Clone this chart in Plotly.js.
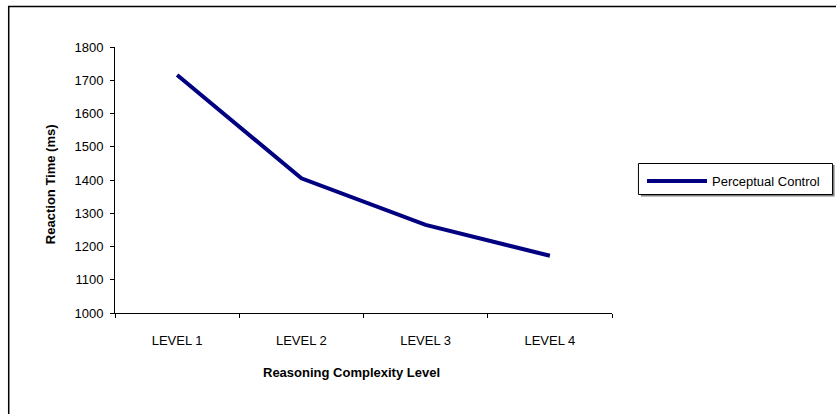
<!DOCTYPE html>
<html>
<head>
<meta charset="utf-8">
<script src="https://cdn.plot.ly/plotly-3.0.1.min.js"></script>
<style>
  html, body { margin: 0; padding: 0; background: #fff; }
  #chart { width: 836px; height: 414px; }
</style>
</head>
<body>
<div id="chart"></div>
<script>
// Reasoning complexity levels and mean reaction times
const levels = ["LEVEL 1", "LEVEL 2", "LEVEL 3", "LEVEL 4"];
const perceptualControl = [1716, 1405, 1265, 1172];
const yTicks = [1000, 1100, 1200, 1300, 1400, 1500, 1600, 1700, 1800];

const font = "Liberation Sans, Arial, sans-serif";
const fs = 13;

// plot area in pixels
const L = 115, R = 613, T = 47, B = 313, W = 836, H = 414;
const px = x => (x - L) / (R - L);
const py = y => (B - y) / (B - T);

const trace = {
  x: levels,
  y: perceptualControl,
  type: "scatter",
  mode: "lines",
  name: "Perceptual Control",
  line: { color: "#000080", width: 4 },
  hoverinfo: "x+y"
};

const layout = {
  width: W,
  height: H,
  margin: { l: L, r: W - R, t: T, b: H - B, pad: 0 },
  paper_bgcolor: "#ffffff",
  plot_bgcolor: "#ffffff",
  font: { family: font, size: fs, color: "#000" },
  showlegend: true,
  xaxis: {
    type: "category",
    range: [-0.5, 3.5],
    showgrid: false,
    zeroline: false,
    showline: true,
    linecolor: "#000",
    linewidth: 1,
    ticks: "outside",
    tickson: "boundaries",
    ticklen: 4,
    tickcolor: "#000",
    ticklabelstandoff: 15,
    tickfont: { family: font, size: fs, color: "#000" },
    fixedrange: true
  },
  yaxis: {
    range: [1000, 1800],
    tickvals: yTicks,
    showgrid: false,
    zeroline: false,
    showline: true,
    linecolor: "#000",
    linewidth: 1,
    ticks: "outside",
    ticklen: 4,
    tickcolor: "#000",
    ticklabelstandoff: 4,
    tickfont: { family: font, size: fs, color: "#000" },
    fixedrange: true
  },
  legend: {
    x: px(642),
    y: py(166),
    xanchor: "left",
    yanchor: "top",
    bgcolor: "rgba(0,0,0,0)",
    borderwidth: 0,
    itemwidth: 60,
    font: { family: font, size: fs, color: "#000" }
  },
  annotations: [
    {
      text: "<b>Reasoning Complexity Level</b>",
      xref: "paper", yref: "paper",
      x: px(352), y: py(373),
      xanchor: "center", yanchor: "middle",
      showarrow: false,
      font: { family: font, size: fs, color: "#000" }
    },
    {
      text: "<b>Reaction Time (ms)</b>",
      xref: "paper", yref: "paper",
      x: px(50), y: py(184),
      xanchor: "center", yanchor: "middle",
      textangle: -90,
      showarrow: false,
      font: { family: font, size: fs, color: "#000" }
    }
  ],
  shapes: [
    {
      // chart frame
      type: "rect", xref: "paper", yref: "paper",
      x0: px(8.5), x1: px(900), y0: py(6.5), y1: py(480),
      line: { color: "#000", width: 1.5 },
      fillcolor: "rgba(0,0,0,0)",
      layer: "below"
    },
    {
      // legend drop shadow
      type: "rect", xref: "paper", yref: "paper",
      x0: px(642), x1: px(836), y0: py(165), y1: py(196.5),
      line: { width: 0 },
      fillcolor: "#808080",
      layer: "above"
    },
    {
      // legend box
      type: "rect", xref: "paper", yref: "paper",
      x0: px(639.5), x1: px(834), y0: py(163.5), y1: py(194.5),
      line: { color: "#000", width: 1 },
      fillcolor: "#ffffff",
      layer: "above"
    }
  ]
};

Plotly.newPlot("chart", [trace], layout, { displayModeBar: false, staticPlot: true });
</script>
</body>
</html>
